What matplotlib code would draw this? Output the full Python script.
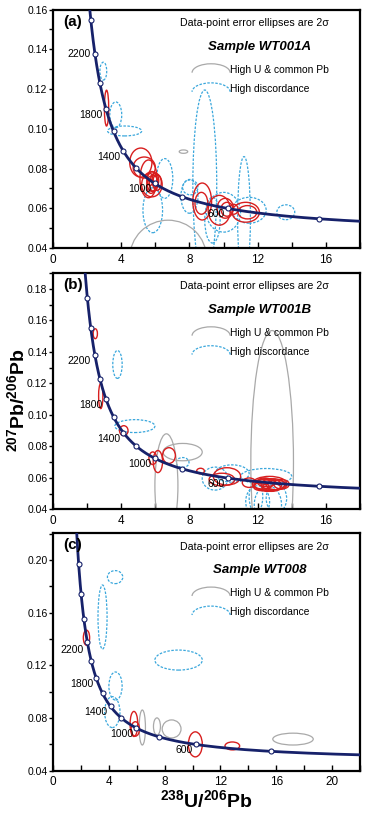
import numpy as np
import matplotlib
matplotlib.use('Agg')
import matplotlib.pyplot as plt
from matplotlib.patches import Ellipse, Arc
from matplotlib.ticker import MultipleLocator, FormatStrFormatter

plt.rcParams['font.family'] = ['Liberation Sans', 'DejaVu Sans']
plt.rcParams['mathtext.fontset'] = 'custom'
plt.rcParams['mathtext.rm'] = 'Liberation Sans'
plt.rcParams['mathtext.bf'] = 'Liberation Sans:bold'

# decay constants (1/yr) and 238U/235U for the Tera-Wasserburg concordia
L238 = 1.55125e-10
L235 = 9.8485e-10
U_RATIO = 137.88

marker_ages = [400, 600, 800, 1000, 1200, 1400, 1600, 1800, 2000, 2200, 2400, 2600, 2800]
label_ages = [600, 1000, 1400, 1800, 2200]

# error ellipses: (238U/206Pb centre, 207Pb/206Pb centre, width, height)
a_red = [(3.14, 0.1104, 0.25, 0.018), (5.15, 0.083, 1.3, 0.0146), (5.35, 0.0805, 1.3, 0.0106),
         (5.6, 0.0748, 1.0, 0.019), (5.8, 0.072, 1.2, 0.0125), (5.8, 0.0735, 0.6, 0.010),
         (5.9, 0.0725, 0.5, 0.008), (6.0, 0.074, 0.4, 0.007), (5.75, 0.071, 0.5, 0.007),
         (6.1, 0.073, 0.5, 0.008), (5.7, 0.0745, 0.35, 0.006), (8.75, 0.0634, 1.1, 0.0186),
         (8.7, 0.0625, 0.75, 0.011), (9.75, 0.059, 1.3, 0.015), (10.1, 0.060, 0.95, 0.010),
         (10.2, 0.0595, 0.7, 0.007), (11.3, 0.058, 1.6, 0.010), (11.4, 0.058, 1.1, 0.0067),
         (10.6, 0.0595, 0.5, 0.005)]
a_grey = [(7.65, 0.0885, 0.5, 0.0017), (6.75, 0.035, 4.5, 0.038)]
a_blue = [(2.95, 0.129, 0.4, 0.009), (3.68, 0.107, 0.7, 0.013), (4.2, 0.0989, 2.0, 0.005),
          (6.55, 0.075, 0.95, 0.020), (5.85, 0.059, 1.15, 0.0226), (8.05, 0.0705, 0.9, 0.0075),
          (8.9, 0.072, 1.4, 0.095), (11.2, 0.055, 0.75, 0.062), (10.0, 0.058, 2.0, 0.020),
          (11.5, 0.059, 2.0, 0.013), (13.65, 0.058, 1.05, 0.0075), (9.35, 0.054, 0.9, 0.023),
          (8.0, 0.066, 1.0, 0.017)]

b_red = [(2.48, 0.1515, 0.25, 0.0063), (2.8, 0.112, 0.25, 0.016), (4.15, 0.090, 0.5, 0.0063),
         (5.85, 0.0725, 0.45, 0.008), (6.15, 0.0704, 0.55, 0.014), (6.8, 0.0742, 0.75, 0.010),
         (8.65, 0.0644, 0.45, 0.0035), (10.2, 0.061, 1.6, 0.011), (9.9, 0.059, 1.5, 0.008),
         (11.5, 0.057, 0.8, 0.006), (12.3, 0.056, 1.2, 0.006), (12.6, 0.0555, 1.6, 0.008),
         (12.9, 0.056, 1.4, 0.007), (12.5, 0.057, 1.0, 0.005), (13.1, 0.0555, 1.2, 0.006),
         (12.2, 0.0545, 0.9, 0.005), (12.8, 0.054, 1.1, 0.005), (13.4, 0.056, 0.9, 0.006),
         (12.4, 0.058, 0.8, 0.004), (12.7, 0.0565, 2.0, 0.009)]
b_grey = [(6.65, 0.055, 1.35, 0.066), (7.6, 0.0764, 2.3, 0.011), (12.85, 0.070, 2.5, 0.167)]
b_blue = [(3.78, 0.132, 0.55, 0.0177), (4.8, 0.0929, 2.35, 0.0082), (7.6, 0.0698, 0.75, 0.0063),
          (9.5, 0.0596, 1.5, 0.0146), (10.5, 0.0628, 2.0, 0.011), (12.5, 0.061, 3.0, 0.010),
          (12.0, 0.045, 1.4, 0.020), (12.6, 0.043, 1.6, 0.024), (13.1, 0.047, 1.2, 0.018),
          (11.9, 0.048, 0.8, 0.020)]

c_red = [(2.4, 0.141, 0.45, 0.0114), (5.8, 0.0755, 0.55, 0.019), (5.9, 0.0717, 0.6, 0.011),
         (10.2, 0.060, 1.0, 0.019), (12.85, 0.0588, 1.05, 0.006)]
c_grey = [(6.4, 0.0728, 0.45, 0.0266), (7.45, 0.0736, 0.5, 0.013), (8.5, 0.0717, 1.35, 0.0137),
          (17.2, 0.064, 2.9, 0.009)]
c_blue = [(4.45, 0.187, 1.1, 0.0099), (3.55, 0.1567, 0.65, 0.0486), (9.0, 0.124, 3.4, 0.0152),
          (4.48, 0.1043, 0.95, 0.0213), (4.25, 0.0845, 1.1, 0.0235)]

NAVY = '#16216a'
RED = '#d81f1f'
GREY = '#a9a9a9'
BLUE = '#3aa7dc'


def concordia(age_ma):
    t = np.asarray(age_ma, dtype=float) * 1e6
    e238 = np.exp(L238 * t) - 1
    e235 = np.exp(L235 * t) - 1
    return 1 / e238, e235 / e238 / U_RATIO


def panel(ax, letter, sample, red, grey, blue, xmax, ymax, yminor, ymajor, lab_off):
    for (x, y, w, h) in blue:
        ax.add_patch(Ellipse((x, y), w, h, fill=False, ec=BLUE, lw=0.9, ls=(0, (2, 1.2)), zorder=2))
    for (x, y, w, h) in grey:
        ax.add_patch(Ellipse((x, y), w, h, fill=False, ec=GREY, lw=0.9, zorder=2))
    for (x, y, w, h) in red:
        ax.add_patch(Ellipse((x, y), w, h, fill=False, ec=RED, lw=1.0, zorder=2.5))

    cx, cy = concordia(np.linspace(60, 3600, 1500))
    ax.plot(cx, cy, color=NAVY, lw=2, zorder=3)
    mx, my = concordia(marker_ages)
    ax.plot(mx, my, 'o', ms=3.6, mfc='white', mec=NAVY, mew=0.8, zorder=4)
    for age in label_ages:
        x, y = concordia(age)
        dx, dy = lab_off.get(age, (-3, -6))
        ax.annotate(str(age), (x, y), xytext=(dx, dy), textcoords='offset pixels',
                    ha='right', va='center', fontsize=7.5, zorder=5)

    ax.set_xlim(0, xmax)
    ax.set_ylim(0.04, ymax)
    ax.xaxis.set_major_locator(MultipleLocator(4))
    ax.xaxis.set_minor_locator(MultipleLocator(2))
    ax.yaxis.set_major_locator(MultipleLocator(ymajor))
    ax.yaxis.set_minor_locator(MultipleLocator(yminor))
    ax.yaxis.set_major_formatter(FormatStrFormatter('%.2f'))
    ax.tick_params(axis='x', which='both', direction='in', length=4, width=1, labelsize=8.5, pad=4)
    ax.tick_params(axis='y', which='both', direction='out', length=3, width=1, labelsize=7.5, pad=1)
    for s in ax.spines.values():
        s.set_linewidth(1.6)

    ax.text(0.033, 0.948, letter, transform=ax.transAxes, fontsize=11, fontweight='bold',
            ha='left', va='center')
    ax.text(0.655, 0.943, 'Data-point error ellipses are 2σ', transform=ax.transAxes,
            fontsize=7.7, ha='center', va='center')
    ax.text(0.674, 0.843, 'Sample ' + sample, transform=ax.transAxes, fontsize=9.5,
            fontweight='bold', style='italic', ha='center', va='center')
    ax.add_patch(Arc((0.515, 0.735), 0.124, 0.075, theta1=0, theta2=180, transform=ax.transAxes,
                     ec=GREY, lw=0.9))
    ax.add_patch(Arc((0.515, 0.655), 0.124, 0.075, theta1=0, theta2=180, transform=ax.transAxes,
                     ec=BLUE, lw=0.9, ls=(0, (2, 1.2))))
    ax.text(0.577, 0.746, 'High U & common Pb', transform=ax.transAxes, fontsize=7.4,
            ha='left', va='center')
    ax.text(0.577, 0.667, 'High discordance', transform=ax.transAxes, fontsize=7.4,
            ha='left', va='center')


fig = plt.figure(figsize=(3.67, 8.14), dpi=100)
ax_a = fig.add_axes([0.1444, 0.6953, 0.8365, 0.2930])
ax_b = fig.add_axes([0.1444, 0.3741, 0.8365, 0.2905])
ax_c = fig.add_axes([0.1444, 0.0532, 0.8365, 0.2920])

panel(ax_a, '(a)', 'WT001A', a_red, a_grey, a_blue, 18, 0.16, 0.01, 0.02, {2200: (-4, 0)})
panel(ax_b, '(b)', 'WT001B', b_red, b_grey, b_blue, 18, 0.19, 0.01, 0.02, {2200: (-4, -6)})
panel(ax_c, '(c)', 'WT008', c_red, c_grey, c_blue, 22, 0.2205, 0.02, 0.04, {2200: (-4, -8)})

fig.text(206.5 / 367, 1 - 800 / 814, r'$\mathbf{^{238}U/^{206}Pb}$', ha='center', va='center',
         fontsize=14)
fig.text(17 / 367, 1 - 400 / 814, r'$\mathbf{^{207}Pb/^{206}Pb}$', ha='center', va='center',
         fontsize=14, rotation=90)

fig.savefig('out.png', dpi=100)
